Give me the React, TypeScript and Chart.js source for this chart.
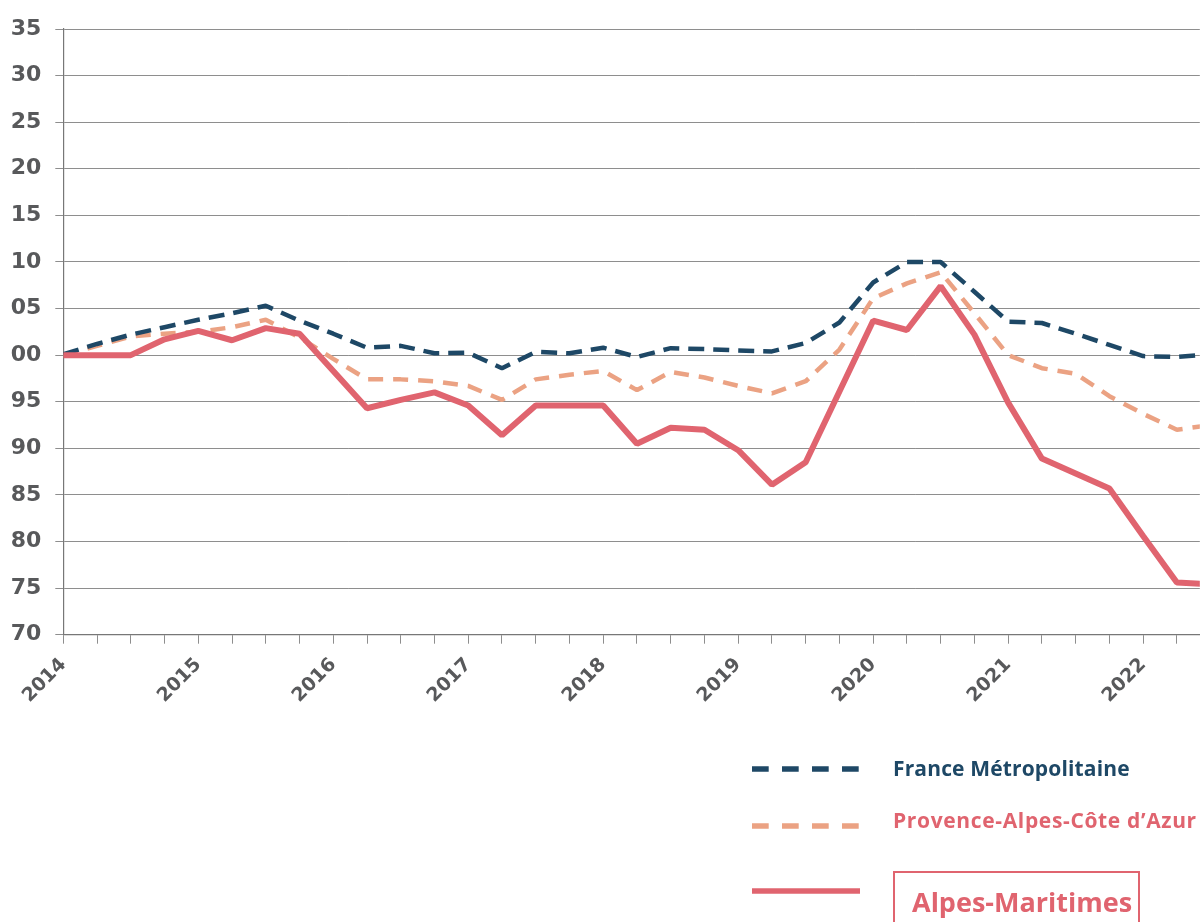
import React, { useEffect, useRef } from "react";
import { Chart, registerables } from "chart.js";

Chart.register(...registerables);

// Quarterly index (base 100 = T1 2014)
const quarterLabels = [
  "T1 2014", "T2 2014", "T3 2014", "T4 2014",
  "T1 2015", "T2 2015", "T3 2015", "T4 2015",
  "T1 2016", "T2 2016", "T3 2016", "T4 2016",
  "T1 2017", "T2 2017", "T3 2017", "T4 2017",
  "T1 2018", "T2 2018", "T3 2018", "T4 2018",
  "T1 2019", "T2 2019", "T3 2019", "T4 2019",
  "T1 2020", "T2 2020", "T3 2020", "T4 2020",
  "T1 2021", "T2 2021", "T3 2021", "T4 2021",
  "T1 2022", "T2 2022", "T3 2022",
];

const yearLabels = ["2014", "2015", "2016", "2017", "2018", "2019", "2020", "2021", "2022"];

const franceValues = [
  100.1, 101.2, 102.2, 103.0, 103.8, 104.5, 105.3, 103.7,
  102.3, 100.8, 101.0, 100.2, 100.25, 98.6, 100.35, 100.2,
  100.8, 99.8, 100.75, 100.65, 100.5, 100.4, 101.3, 103.5,
  107.8, 110.0, 110.0, 106.8, 103.6, 103.45, 102.3, 101.1,
  99.9, 99.8, 100.1,
];

const pacaValues = [
  100.0, 101.0, 102.0, 102.3, 102.5, 103.0, 103.8, 101.9,
  99.6, 97.4, 97.4, 97.2, 96.7, 95.2, 97.4, 97.9,
  98.3, 96.25, 98.2, 97.6, 96.7, 95.9, 97.2, 100.6,
  106.1, 107.7, 108.9, 104.5, 100.0, 98.6, 98.0, 95.6,
  93.7, 92.0, 92.5,
];

const alpesMaritimesValues = [
  100.0, 100.0, 100.0, 101.7, 102.6, 101.6, 102.9, 102.3,
  98.3, 94.3, 95.2, 96.0, 94.6, 91.4, 94.6, 94.6,
  94.6, 90.5, 92.2, 92.0, 89.8, 86.1, 88.5, 96.1,
  103.7, 102.7, 107.4, 102.2, 94.9, 88.9, 87.3, 85.7,
  80.6, 75.6, 75.4,
];

const yTickValues = [70, 75, 80, 85, 90, 95, 100, 105, 110, 115, 120, 125, 130, 135];
const yTickLabels = ["70", "75", "80", "85", "90", "95", "00", "05", "10", "15", "20", "25", "30", "35"];

const seriesNames = ["France Métropolitaine", "Provence-Alpes-Côte d\u2019Azur", "Alpes-Maritimes"];

const NAVY = "#1e4866";
const SALMON = "#eba283";
const RED = "#e0646f";
const GRID = "#8e8e8e";
const AXIS_TEXT = "#58595b";
const AXIS_FONT = "'DejaVu Sans', sans-serif";
const FONT = "'Open Sans', 'DejaVu Sans', sans-serif";

const X_MAX = 33.68;

function toPoints(values: number[]) {
  return values.map((v, i) => ({ x: i, y: v }));
}

export default function App() {
  const canvasRef = useRef<HTMLCanvasElement | null>(null);

  useEffect(() => {
    const canvas = canvasRef.current;
    if (!canvas) return;
    const chart = new Chart(canvas, {
      type: "line",
      data: {
        datasets: [
          {
            label: seriesNames[2],
            data: toPoints(alpesMaritimesValues),
            borderColor: RED,
            borderWidth: 6,
            pointRadius: 0,
            tension: 0,
            borderJoinStyle: "bevel",
            order: 0,
          },
          {
            label: seriesNames[0],
            data: toPoints(franceValues),
            borderColor: NAVY,
            borderWidth: 4.5,
            borderDash: [16, 9],
            pointRadius: 0,
            tension: 0,
            borderJoinStyle: "bevel",
            order: 1,
          },
          {
            label: seriesNames[1],
            data: toPoints(pacaValues),
            borderColor: SALMON,
            borderWidth: 4.5,
            borderDash: [15, 10],
            pointRadius: 0,
            tension: 0,
            borderJoinStyle: "bevel",
            order: 2,
          },
        ],
      },
      options: {
        animation: false,
        responsive: false,
        maintainAspectRatio: false,
        layout: { padding: { top: 29, right: 0, bottom: 0, left: 0 } },
        plugins: { legend: { display: false }, tooltip: { enabled: false } },
        scales: {
          x: {
            type: "linear",
            min: 0,
            max: X_MAX,
            afterBuildTicks: (scale: any) => {
              scale.ticks = quarterLabels.map((_, i) => ({ value: i })).filter((t) => t.value <= X_MAX);
            },
            afterFit: (scale: any) => {
              scale.height = 720 - 634.7;
            },
            grid: { drawOnChartArea: false, drawTicks: true, tickLength: 9, color: GRID, lineWidth: 1 },
            border: { display: true, color: "#777", width: 1.2 },
            ticks: {
              autoSkip: false,
              minRotation: 45,
              maxRotation: 45,
              padding: 10,
              color: AXIS_TEXT,
              font: { family: AXIS_FONT, size: 19, weight: "bold" },
              callback: (value: any) => {
                const v = Number(value);
                return v % 4 === 0 ? yearLabels[v / 4] : "";
              },
            },
          },
          y: {
            min: 70,
            max: 135,
            afterBuildTicks: (scale: any) => {
              scale.ticks = yTickValues.map((v) => ({ value: v }));
            },
            afterFit: (scale: any) => {
              scale.width = 63.3;
            },
            grid: { color: GRID, lineWidth: 1, tickLength: 8, drawTicks: true },
            border: { display: true, color: "#777", width: 1.2 },
            ticks: {
              padding: 14,
              color: AXIS_TEXT,
              font: { family: AXIS_FONT, size: 22, weight: "bold" },
              callback: (value: any) => {
                const idx = yTickValues.indexOf(Number(value));
                return idx >= 0 ? yTickLabels[idx] : "";
              },
            },
          },
        },
      },
    });
    return () => chart.destroy();
  }, []);

  const textBase: React.CSSProperties = {
    position: "absolute",
    fontFamily: FONT,
    fontWeight: 700,
    whiteSpace: "nowrap",
  };

  return (
    <div
      style={{
        position: "fixed",
        left: 0,
        top: 0,
        width: 1203,
        height: 922,
        overflow: "hidden",
        background: "#ffffff",
      }}
    >
      <canvas
        ref={canvasRef}
        width={1203}
        height={720}
        style={{ position: "absolute", left: 0, top: 0, width: 1203, height: 720 }}
      />
      <svg
        width={1203}
        height={922}
        style={{ position: "absolute", left: 0, top: 0 }}
      >
        <line x1={752} y1={769} x2={860} y2={769} stroke={NAVY} strokeWidth={5.5} strokeDasharray="16.7 13.3" />
        <line x1={752} y1={826} x2={860} y2={826} stroke={SALMON} strokeWidth={5.5} strokeDasharray="16.7 13.3" />
        <line x1={752} y1={891} x2={860} y2={891} stroke={RED} strokeWidth={5.5} />
      </svg>
      <div style={{ ...textBase, left: 893, top: 754, fontSize: 21, lineHeight: "28px", letterSpacing: "0.15px", color: NAVY }}>
        {seriesNames[0]}
      </div>
      <div style={{ ...textBase, left: 893, top: 806, fontSize: 21, lineHeight: "28px", letterSpacing: "0.65px", color: RED }}>
        {seriesNames[1]}
      </div>
      <div
        style={{
          position: "absolute",
          left: 893,
          top: 871,
          width: 247,
          height: 80,
          border: `2px solid ${RED}`,
          boxSizing: "border-box",
        }}
      >
        <div style={{ ...textBase, left: 17, top: 11, fontSize: 27, lineHeight: "35px", color: RED }}>
          {seriesNames[2]}
        </div>
      </div>
    </div>
  );
}
